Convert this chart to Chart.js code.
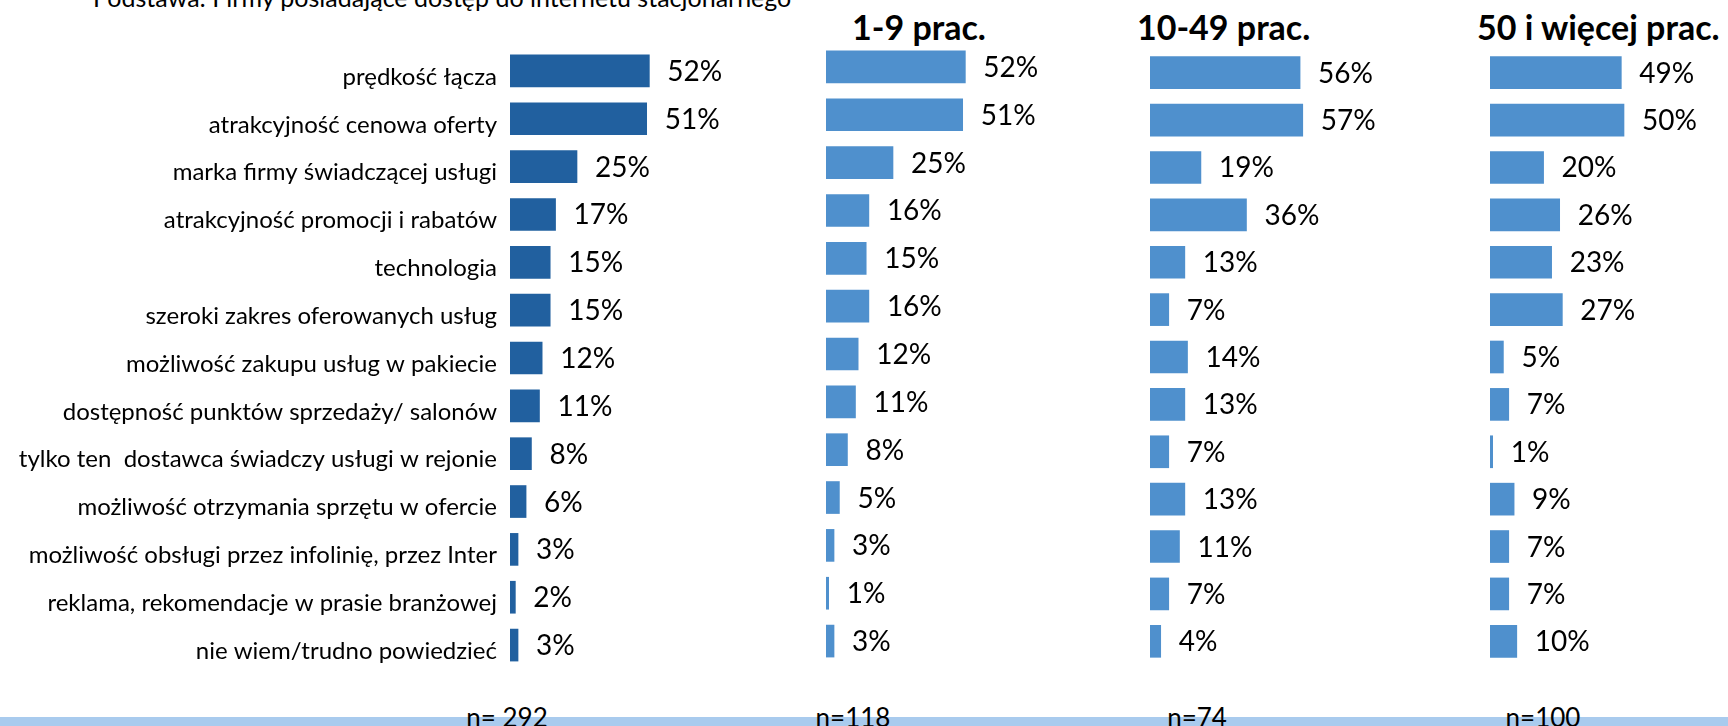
<!DOCTYPE html>
<html lang="pl">
<head>
<meta charset="utf-8">
<title>Czynniki wyboru dostawcy internetu</title>
<script src="https://cdn.jsdelivr.net/npm/chart.js@4"></script>
<style>
  html, body { margin: 0; padding: 0; background: #fff; }
  #page { position: relative; width: 1728px; height: 726px; overflow: hidden; font-family: Lato, sans-serif; color: #000; }
  canvas { position: absolute; }
  .txt { position: absolute; white-space: pre; }
  #title { left: 93px; top: -15px; font-size: 25px; line-height: 25px; }
  .head { top: 10px; font-size: 34px; line-height: 34px; font-weight: bold; }
  .nlab { top: 704px; font-size: 26px; line-height: 26px; transform: translateX(-50%); z-index: 2; }
  #band { position: absolute; left: 0; top: 717px; width: 1728px; height: 9px; background: #a9cbee; z-index: 1; }
</style>
</head>
<body>
<div id="page">
  <div id="title" class="txt">Podstawa: Firmy posiadające dostęp do internetu stacjonarnego</div>
  <div class="txt head" style="left:852px">1-9 prac.</div>
  <div class="txt head" style="left:1137px">10-49 prac.</div>
  <div class="txt head" style="left:1477px">50 i więcej prac.</div>

  <canvas id="chartTotal" width="778" height="622" style="left:0px;top:47px"></canvas>
  <canvas id="chartSmall" width="268" height="622" style="left:826px;top:43px"></canvas>
  <canvas id="chartMedium" width="268" height="616" style="left:1150px;top:49px"></canvas>
  <canvas id="chartLarge" width="238" height="616" style="left:1490px;top:49px"></canvas>

  <div id="band"></div>
  <div class="txt nlab" style="left:507px">n= 292</div>
  <div class="txt nlab" style="left:853px">n=118</div>
  <div class="txt nlab" style="left:1197px">n=74</div>
  <div class="txt nlab" style="left:1543px">n=100</div>
</div>

<script>
// Categories (reasons for choosing the provider)
const categories = [
  'prędkość łącza',
  'atrakcyjność cenowa oferty',
  'marka firmy świadczącej usługi',
  'atrakcyjność promocji i rabatów',
  'technologia',
  'szeroki zakres oferowanych usług',
  'możliwość zakupu usług w pakiecie',
  'dostępność punktów sprzedaży/ salonów',
  'tylko ten  dostawca świadczy usługi w rejonie',
  'możliwość otrzymania sprzętu w ofercie',
  'możliwość obsługi przez infolinię, przez Inter',
  'reklama, rekomendacje w prasie branżowej',
  'nie wiem/trudno powiedzieć'
];

// Values in % per company size
const totalValues  = [52, 51, 25, 17, 15, 15, 12, 11, 8, 6, 3, 2, 3];
const smallValues  = [52, 51, 25, 16, 15, 16, 12, 11, 8, 5, 3, 1, 3];
const mediumValues = [56, 57, 19, 36, 13, 7, 14, 13, 7, 13, 11, 7, 4];
const largeValues  = [49, 50, 20, 26, 23, 27, 5, 7, 1, 9, 7, 7, 10];

const PX_PER_PCT = 2.68;
const DARK_BLUE = '#21609f';
const LIGHT_BLUE = '#4f90cd';

// draws "52%" next to the end of each bar
const valueLabels = {
  id: 'valueLabels',
  afterDatasetsDraw(chart) {
    const ctx = chart.ctx;
    const meta = chart.getDatasetMeta(0);
    const data = chart.data.datasets[0].data;
    ctx.save();
    ctx.font = '28px Lato';
    ctx.fillStyle = '#000';
    ctx.textAlign = 'left';
    ctx.textBaseline = 'middle';
    meta.data.forEach((bar, i) => {
      ctx.fillText(data[i] + '%', bar.x + 18, bar.y + 1);
    });
    ctx.restore();
  }
};

function makePanel(canvasId, values, color, showLabels) {
  const canvas = document.getElementById(canvasId);
  const axisWidth = showLabels ? 510 : 0;
  const plotWidth = showLabels ? 268 : canvas.width;

  return new Chart(canvas, {
    type: 'bar',
    data: {
      labels: categories,
      datasets: [{
        data: values,
        backgroundColor: color,
        borderWidth: 0,
        barThickness: 32
      }]
    },
    options: {
      indexAxis: 'y',
      responsive: false,
      animation: false,
      layout: { padding: 0 },
      plugins: {
        legend: { display: false },
        tooltip: { enabled: false }
      },
      scales: {
        x: {
          display: false,
          min: 0,
          max: plotWidth / PX_PER_PCT
        },
        y: {
          display: showLabels,
          grid: { display: false, drawTicks: false },
          border: { display: false },
          ticks: {
            color: '#000',
            font: { family: 'Lato', size: 24 },
            padding: 13,
            labelOffset: 6,
            autoSkip: false
          },
          afterFit(scale) {
            // fixed axis width, no extra room above/below for the labels
            scale.width = axisWidth;
            scale.paddingTop = 0;
            scale.paddingBottom = 0;
          }
        }
      }
    },
    plugins: [valueLabels]
  });
}

makePanel('chartTotal', totalValues, DARK_BLUE, true);
makePanel('chartSmall', smallValues, LIGHT_BLUE, false);
makePanel('chartMedium', mediumValues, LIGHT_BLUE, false);
makePanel('chartLarge', largeValues, LIGHT_BLUE, false);
</script>
</body>
</html>
